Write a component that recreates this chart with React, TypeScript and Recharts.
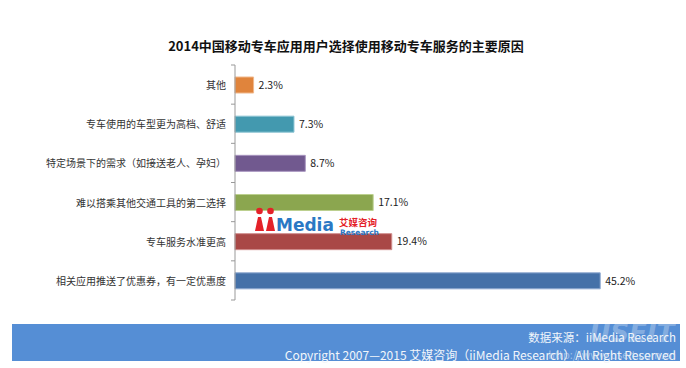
import React from 'react';
import { BarChart, Bar, XAxis, YAxis, Cell, LabelList } from 'recharts';

const categories = [
  '其他',
  '专车使用的车型更为高档、舒适',
  '特定场景下的需求（如接送老人、孕妇）',
  '难以搭乘其他交通工具的第二选择',
  '专车服务水准更高',
  '相关应用推送了优惠券，有一定优惠度',
];
const values = [2.3, 7.3, 8.7, 17.1, 19.4, 45.2];
const colors = ['#E0843C', '#4399AF', '#71598F', '#8BA64F', '#A94846', '#4571A8'];
const strokes = ['#F0B88C', '#8CC4D4', '#A895BF', '#BCD08F', '#D08E8C', '#8EA9D0'];

const title = '2014中国移动专车应用用户选择使用移动专车服务的主要原因';
const sourceText = '数据来源：iiMedia Research';
const copyrightText = 'Copyright 2007—2015 艾媒咨询（iiMedia Research）All Right Reserved';

const data = categories.map((c, i) => ({ name: c, value: values[i] }));

const FONT = '"Noto Sans CJK SC", "Noto Sans", sans-serif';
const TICK_GAP = 9;

const CatTick = (props: any) => {
  const { x, y, payload, index, visibleTicksCount } = props;
  const axisX = x + TICK_GAP;
  const off = payload && typeof payload.offset === 'number' ? payload.offset : null;
  return (
    <g>
      <text
        x={x}
        y={y}
        textAnchor="end"
        dominantBaseline="central"
        fontSize={10}
        fill="#333"
        fontFamily={FONT}
      >
        {payload.value}
      </text>
      {off !== null && (
        <line x1={axisX - 4} x2={axisX} y1={y - off} y2={y - off} stroke="#999" strokeWidth={1} />
      )}
      {off !== null && index === visibleTicksCount - 1 && (
        <line x1={axisX - 4} x2={axisX} y1={y + off} y2={y + off} stroke="#999" strokeWidth={1} />
      )}
    </g>
  );
};

export default function App() {
  return (
    <div style={{ position: 'absolute', left: 0, top: 0, width: 686, height: 368, background: '#fff', fontFamily: FONT }}>
      <BarChart
        width={686}
        height={368}
        data={data}
        layout="vertical"
        margin={{ top: 65, right: 47, bottom: 68, left: 0 }}
        barSize={16}
      >
        <text
          x={346}
          y={45}
          textAnchor="middle"
          dominantBaseline="central"
          fontSize={13}
          fontWeight="bold"
          fill="#111"
          fontFamily={FONT}
        >
          {title}
        </text>
        <XAxis type="number" domain={[0, 50]} hide />
        <YAxis
          type="category"
          dataKey="name"
          width={235}
          tickLine={false}
          tickSize={0}
          tickMargin={TICK_GAP}
          axisLine={{ stroke: '#999' }}
          tick={<CatTick />}
          interval={0}
        />
        <Bar dataKey="value" isAnimationActive={false} strokeWidth={1}>
          {data.map((d, i) => (
            <Cell key={d.name} fill={colors[i]} stroke={strokes[i]} />
          ))}
          <LabelList
            dataKey="value"
            position="right"
            offset={5}
            formatter={(v: any) => `${v}%`}
            style={{ fontSize: 10.5, fill: '#222', fontFamily: FONT }}
          />
        </Bar>
      </BarChart>
      <svg
        width={686}
        height={368}
        style={{ position: 'absolute', left: 0, top: 0, pointerEvents: 'none' }}
      >
        {/* iiMedia watermark logo */}
        <g>
          <circle cx={259.5} cy={211} r={3.3} fill="#E42128" />
          <circle cx={270.5} cy={211} r={3.3} fill="#E42128" />
          <path d="M255 231 L258 217 L261 217 L264 231 Z" fill="#E42128" />
          <path d="M266 231 L269 217 L272 217 L275 231 Z" fill="#E42128" />
          <text x={276} y={231} fontSize={17} fontWeight="bold" fill="#2A78C4" fontFamily='"DejaVu Sans", sans-serif'>
            Media
          </text>
          <text x={339} y={226} fontSize={9.5} fontWeight="bold" fill="#E42128" fontFamily={FONT}>
            艾媒咨询
          </text>
          <text x={340} y={235} fontSize={7.5} fontWeight="bold" fill="#2A78C4" fontFamily='"DejaVu Sans", sans-serif'>
            Research
          </text>
        </g>
        {/* footer band */}
        <rect x={12} y={324} width={668} height={37} fill="#558ED5" />
        <text
          x={632}
          y={342}
          textAnchor="middle"
          fontSize={26}
          fontWeight="bold"
          fontStyle="italic"
          fill="#ffffff"
          fillOpacity={0.3}
          fontFamily='"DejaVu Sans", sans-serif'
        >
          USEIT
        </text>
        <text x={676} y={337} textAnchor="end" dominantBaseline="central" fontSize={11.5} fill="#F2F6FB" fontFamily={FONT}>
          {sourceText}
        </text>
        <text x={676} y={354} textAnchor="end" dominantBaseline="central" fontSize={12} fill="#F2F6FB" fontFamily={FONT}>
          {copyrightText}
        </text>
        <text x={676} y={354} textAnchor="end" dominantBaseline="central" fontSize={11} fill="#DDE6F3" fillOpacity={0.55} fontFamily={FONT}>
          http://www.useit.com.cn
        </text>
      </svg>
    </div>
  );
}
